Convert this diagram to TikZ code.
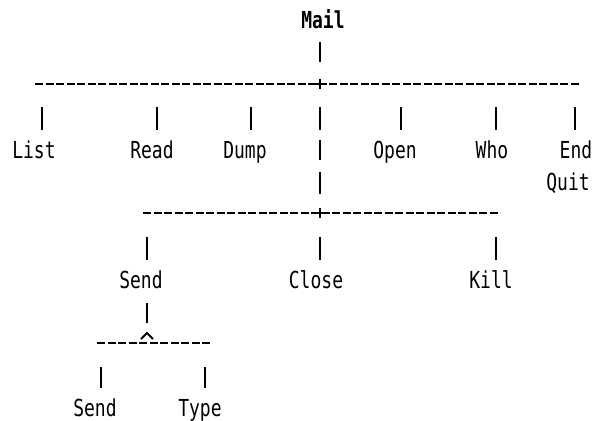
\documentclass[tikz,border=0pt]{standalone}
\usepackage{fontspec}
\usepackage{graphicx}
\setmonofont{DejaVu Sans Mono}
\newcommand\tx[1]{\scalebox{1}[1.3]{#1}}
\begin{document}
\begin{tikzpicture}[x=1pt,y=-1pt,
  lbl/.style={font=\ttfamily\fontsize{18}{18}\selectfont, inner sep=0pt, anchor=base},
  bar/.style={line width=2.2pt},
  hline/.style={line width=2pt, dash pattern=on 8pt off 2.5pt},
  cross/.style={line width=2pt},
]
\useasboundingbox[fill=white] (0,0) rectangle (598,421);
% root
\node[lbl, font=\ttfamily\bfseries\fontsize{18}{18}\selectfont] (mail) at (323,28) {\tx{Mail}};
\draw[bar] (320,42) -- (320,62);
% first rail
\draw[hline] (35,84) -- (580,84);
\draw[cross] (314,84) -- (326,84) (320,79) -- (320,89);
% drops
\foreach \x in {42,157,251,320,401,496,575} \draw[bar] (\x,107) -- (\x,130);
\node[lbl] (list) at (34,158) {\tx{List}};
\node[lbl] (read) at (152,158) {\tx{Read}};
\node[lbl] (dump) at (245,158) {\tx{Dump}};
\node[lbl] (open) at (395,158) {\tx{Open}};
\node[lbl] (who)  at (492,158) {\tx{Who}};
\node[lbl] (end)  at (576,158) {\tx{End}};
\node[lbl] (quit) at (568,190) {\tx{Quit}};
\draw[bar] (320,140) -- (320,160);
\draw[bar] (320,172) -- (320,194);
% second rail
\draw[hline] (143,213) -- (500,213);
\draw[cross] (314,213) -- (326,213) (320,208) -- (320,218);
\foreach \x in {147,320,496} \draw[bar] (\x,237) -- (\x,260);
\node[lbl] (send) at (141,288) {\tx{Send}};
\node[lbl] (close) at (316,288) {\tx{Close}};
\node[lbl] (kill) at (491,288) {\tx{Kill}};
\draw[bar] (147,303) -- (147,323);
% third rail
\draw[hline] (97,343) -- (210,343);
\draw[line width=1.8pt] (141,339) -- (147,333) -- (153,339);
\foreach \x in {101,205} \draw[bar] (\x,367) -- (\x,388);
\node[lbl] (send2) at (95,416) {\tx{Send}};
\node[lbl] (type) at (200,416) {\tx{Type}};
\end{tikzpicture}
\end{document}
